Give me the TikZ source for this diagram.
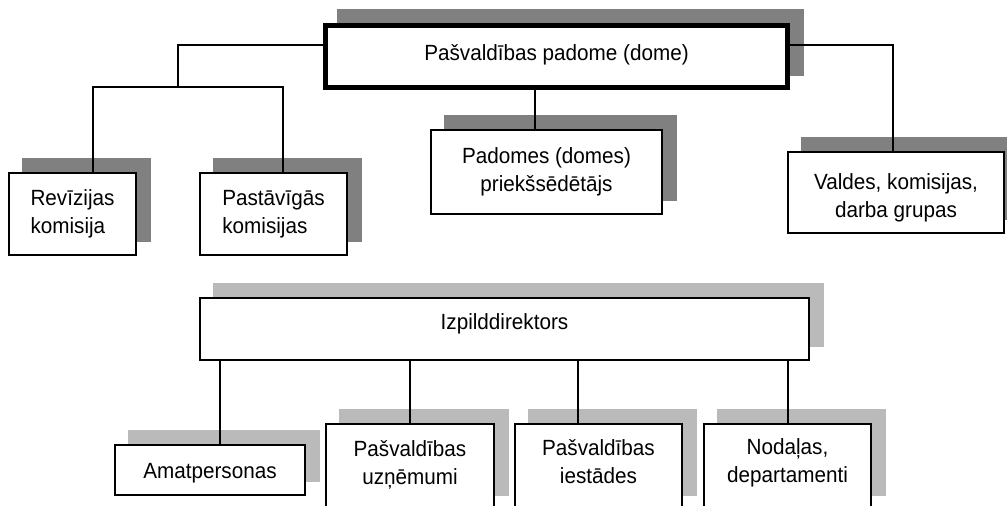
\documentclass[tikz,border=0pt]{standalone}
\usepackage{fontspec}
\setmainfont[FakeStretch=0.94]{Liberation Sans}
\usetikzlibrary{shadows}
\newcommand\shv[2]{\raisebox{#1}[\height][\depth]{#2}}
\begin{document}
\begin{tikzpicture}[x=1pt,y=-1pt,
  lbl/.style={font=\fontsize{22pt}{28pt}\selectfont},
  box/.style={draw=black, line width=2pt, fill=white, inner sep=0pt, align=center, lbl},
  shdark/.style={general shadow={fill=black!50, draw=black!50, line width=2pt, shadow xshift=14pt, shadow yshift=14pt}},
  shlight/.style={general shadow={fill=black!27, draw=black!27, line width=2pt, shadow xshift=14pt, shadow yshift=14pt}},
  conn/.style={draw=black, line width=2pt, line join=miter}]
\useasboundingbox (0,0) rectangle (1007,506);
\clip (0,0) rectangle (1007,506);
% top level
\node[box, line width=5pt, general shadow={fill=black!50, draw=black!50, line width=5pt, shadow xshift=14pt, shadow yshift=14pt},
  minimum width=462pt, minimum height=62pt] (dome) at (556.5,56.5) {\shv{2pt}{Pašvaldības padome (dome)}};
\node[box, shdark, align=left, minimum width=127pt, minimum height=82pt] (rev) at (72.5,214) {Revīzijas\\komisija};
\node[box, shdark, align=left, minimum width=147pt, minimum height=82pt] (pas) at (273.5,214) {Pastāvīgās\\komisijas};
\node[box, shdark, minimum width=231pt, minimum height=84pt] (pad) at (546.5,172) {Padomes (domes)\\priekšsēdētājs};
\node[box, shdark, minimum width=216pt, minimum height=81pt] (val) at (896,192.5) {\shv{-5pt}{Valdes, komisijas,}\\\shv{-5pt}{darba grupas}};
% executive level
\node[box, shlight, minimum width=609pt, minimum height=62pt] (izp) at (504.5,329) {\shv{5pt}{Izpilddirektors}};
\node[box, shlight, minimum width=190pt, minimum height=50pt] (ama) at (210,470) {\shv{-3.5pt}{Amatpersonas}};
\node[box, shlight, minimum width=168pt, minimum height=85pt] (uzn) at (410,466.5) {\shv{2pt}{Pašvaldības}\\\shv{2pt}{uzņēmumi}};
\node[box, shlight, minimum width=167pt, minimum height=85pt] (ies) at (598.5,466.5) {\shv{5pt}{Pašvaldības}\\\shv{5pt}{iestādes}};
\node[box, shlight, minimum width=167pt, minimum height=85pt] (nod) at (787.5,466.5) {\shv{4pt}{Nodaļas,}\\\shv{4pt}{departamenti}};
% junction coordinates
\coordinate (yl) at (0,45);
\coordinate (jtop) at (178,87);
\coordinate (jl) at (93,87);
\coordinate (jr) at (283,87);
\coordinate (xp) at (535,0);
\coordinate (xv) at (893,0);
\coordinate (xa) at (220,0);
\coordinate (xu) at (410,0);
\coordinate (xi) at (578,0);
\coordinate (xn) at (788,0);
% connectors
\draw[conn] (dome.west |- yl) -| (jtop);
\draw[conn] (rev.north -| jl) -- (jl) -- (jr) -- (pas.north -| jr);
\draw[conn] (dome.south -| xp) -- (pad.north -| xp);
\draw[conn] (dome.east |- yl) -| (val.north -| xv);
\draw[conn] (izp.south -| xa) -- (ama.north -| xa);
\draw[conn] (izp.south -| xu) -- (uzn.north -| xu);
\draw[conn] (izp.south -| xi) -- (ies.north -| xi);
\draw[conn] (izp.south -| xn) -- (nod.north -| xn);
\end{tikzpicture}
\end{document}
